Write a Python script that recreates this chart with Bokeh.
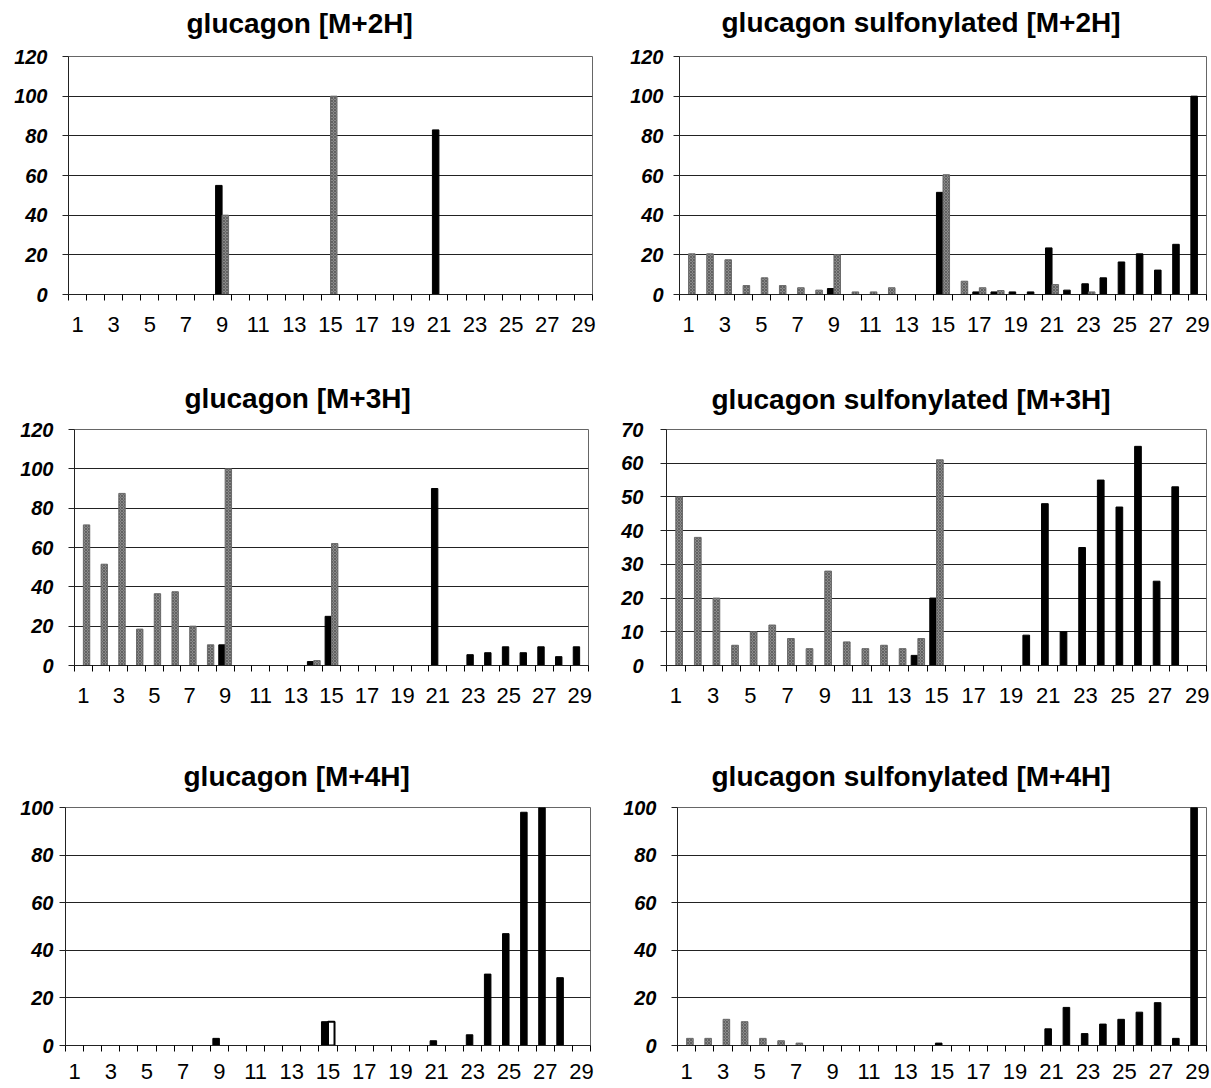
from bokeh.plotting import figure
from bokeh.layouts import column, row
from bokeh.models import FixedTicker, Range1d, Title
from bokeh.embed import file_html
from bokeh.resources import INLINE

# ---------------- data ----------------
categories = list(range(1, 30))
x_tick_labels = [1, 3, 5, 7, 9, 11, 13, 15, 17, 19, 21, 23, 25, 27, 29]

titles = [
    "glucagon [M+2H]",
    "glucagon sulfonylated [M+2H]",
    "glucagon [M+3H]",
    "glucagon sulfonylated [M+3H]",
    "glucagon [M+4H]",
    "glucagon sulfonylated [M+4H]",
]

# glucagon [M+2H]
gm2_black = [0, 0, 0, 0, 0, 0, 0, 0, 55, 0, 0, 0, 0, 0, 0, 0, 0, 0, 0, 0, 83, 0, 0, 0, 0, 0, 0, 0, 0]
gm2_gray = [0, 0, 0, 0, 0, 0, 0, 0, 40, 0, 0, 0, 0, 0, 100, 0, 0, 0, 0, 0, 0, 0, 0, 0, 0, 0, 0, 0, 0]

# glucagon sulfonylated [M+2H]
gsm2_black = [0, 0, 0, 0, 0, 0, 0, 0, 3, 0, 0, 0, 0, 0, 51.5, 0, 1.3, 1.3, 1.3, 1.3, 23.5, 2.2, 5.4, 8.4, 16.4, 20.5, 12.3, 25.3, 100]
gsm2_gray = [20.5, 20.5, 17.5, 4.5, 8.4, 4.5, 3.4, 2.2, 20, 1.3, 1.3, 3.4, 0, 0, 60.4, 6.7, 3.4, 2, 0, 0, 5, 0, 1.3, 0, 0, 0, 0, 0, 0]

# glucagon [M+3H]
gm3_black = [0, 0, 0, 0, 0, 0, 0, 0, 10.5, 0, 0, 0, 0, 2, 25, 0, 0, 0, 0, 0, 90, 0, 5.5, 6.5, 9.5, 6.5, 9.5, 4.5, 9.5]
gm3_gray = [71.5, 51.5, 87.5, 18.5, 36.5, 37.5, 20, 10.5, 100, 0, 0, 0, 0, 2.5, 62, 0, 0, 0, 0, 0, 0, 0, 0, 0, 0, 0, 0, 0, 0]

# glucagon sulfonylated [M+3H]
gsm3_black = [0, 0, 0, 0, 0, 0, 0, 0, 0, 0, 0, 0, 0, 3, 20, 0, 0, 0, 0, 9, 48, 10, 35, 55, 47, 65, 25, 53, 0]
gsm3_gray = [50, 38, 20, 6, 10, 12, 8, 5, 28, 7, 5, 6, 5, 8, 61, 0, 0, 0, 0, 0, 0, 0, 0, 0, 0, 0, 0, 0, 0]

# glucagon [M+4H]
gm4_black = [0, 0, 0, 0, 0, 0, 0, 0, 3, 0, 0, 0, 0, 0, 10, 0, 0, 0, 0, 0, 2, 0, 4.5, 30, 47, 98, 101, 28.5, 0]
gm4_open = [0, 0, 0, 0, 0, 0, 0, 0, 0, 0, 0, 0, 0, 0, 10, 0, 0, 0, 0, 0, 0, 0, 0, 0, 0, 0, 0, 0, 0]

# glucagon sulfonylated [M+4H]
gsm4_black = [0, 0, 0, 0, 0, 0, 0, 0, 0, 0, 0, 0, 0, 0, 1, 0, 0, 0, 0, 0, 7, 16, 5, 9, 11, 14, 18, 3, 100]
gsm4_gray = [3, 3, 11, 10, 3, 2, 1, 0, 0, 0, 0, 0, 0, 0, 0, 0, 0, 0, 0, 0, 0, 0, 0, 0, 0, 0, 0, 0, 0]

y_ticks_120 = [0, 20, 40, 60, 80, 100, 120]
y_ticks_70 = [0, 10, 20, 30, 40, 50, 60, 70]
y_ticks_100 = [0, 20, 40, 60, 80, 100]

FONT = "Liberation Sans"
BAR_W = 0.36
OFF = 0.18


def make_chart(title, black, second, y_ticks, geo, second_kind="gray"):
    w, h = geo["w"], geo["h"]
    l, t, fw, fh = geo["l"], geo["t"], geo["fw"], geo["fh"]
    p = figure(
        width=w, height=h,
        x_range=Range1d(0.5, 29.5), y_range=Range1d(0, y_ticks[-1]),
        output_backend="svg", toolbar_location=None,
        min_border_left=l, min_border_right=w - l - fw,
        min_border_top=t, min_border_bottom=h - t - fh,
        background_fill_color="white", border_fill_color="white",
    )
    p.outline_line_color = "#666666"
    p.outline_line_width = 1

    # title: an invisible spacer next to the frame, then the real title above it
    p.title.text = ""
    p.add_layout(Title(text=" ", text_font_size="1px", standoff=geo["sp"] - 3), "above")
    p.add_layout(Title(text=title, align="left", offset=geo["toff"], standoff=0,
                       text_font=FONT, text_font_size="28px", text_font_style="bold",
                       text_color="black"), "above")

    # bars
    bx = [c - OFF for c, v in zip(categories, black) if v > 0]
    bt = [v for v in black if v > 0]
    p.vbar(x=bx, top=bt, bottom=0, width=BAR_W, fill_color="black", line_color="black", line_width=1)

    sx = [c + OFF for c, v in zip(categories, second) if v > 0]
    st = [v for v in second if v > 0]
    if second_kind == "gray":
        p.vbar(x=sx, top=st, bottom=0, width=BAR_W, fill_color="#8a8a8a", line_color="#6a6a6a",
               line_width=1, hatch_pattern="x", hatch_color="#505050", hatch_scale=3, hatch_weight=0.7)
    else:
        p.vbar(x=sx, top=st, bottom=0, width=BAR_W, fill_color="white", line_color="black", line_width=2)

    # x axis
    xa = p.xaxis[0]
    xa.ticker = FixedTicker(ticks=x_tick_labels, minor_ticks=[c - 0.5 for c in categories] + [29.5])
    xa.major_tick_line_color = None
    xa.minor_tick_line_color = "black"
    xa.minor_tick_in = 0
    xa.minor_tick_out = 6
    xa.axis_line_color = "#222222"
    xa.major_label_text_font = FONT
    xa.major_label_text_font_size = "22px"
    xa.major_label_text_color = "black"
    xa.major_label_standoff = geo["xst"]

    # y axis
    ya = p.yaxis[0]
    ya.ticker = FixedTicker(ticks=y_ticks)
    ya.minor_tick_line_color = None
    ya.major_tick_in = 0
    ya.major_tick_out = 6
    ya.major_tick_line_color = "#222222"
    ya.axis_line_color = "#222222"
    ya.major_label_text_font = FONT
    ya.major_label_text_font_size = "20px"
    ya.major_label_text_font_style = "bold italic"
    ya.major_label_text_color = "black"
    ya.major_label_standoff = geo["yst"]

    p.xgrid.grid_line_color = None
    p.ygrid.ticker = FixedTicker(ticks=y_ticks)
    p.ygrid.grid_line_color = "#222222"
    p.ygrid.grid_line_width = 1
    return p


# geometry (pixels): size, borders, frame size, title offset/spacer, label standoffs
g_tl = dict(w=605, h=365, l=68, t=56, fw=524, fh=238, toff=118, sp=18, xst=16, yst=15)
g_tr = dict(w=605, h=365, l=74, t=56, fw=527, fh=238, toff=42, sp=19, xst=16, yst=10)
g_ml = dict(w=605, h=370, l=74, t=64, fw=514, fh=236, toff=110, sp=16, xst=16, yst=15)
g_mr = dict(w=605, h=370, l=61, t=64, fw=540, fh=236, toff=45, sp=15, xst=16, yst=17)
g_bl = dict(w=605, h=353, l=65, t=72, fw=525, fh=238, toff=118, sp=16, xst=12, yst=6)
g_br = dict(w=605, h=353, l=72, t=72, fw=529, fh=238, toff=34, sp=16, xst=12, yst=15)

p1 = make_chart(titles[0], gm2_black, gm2_gray, y_ticks_120, g_tl)
p2 = make_chart(titles[1], gsm2_black, gsm2_gray, y_ticks_120, g_tr)
p3 = make_chart(titles[2], gm3_black, gm3_gray, y_ticks_120, g_ml)
p4 = make_chart(titles[3], gsm3_black, gsm3_gray, y_ticks_70, g_mr)
p5 = make_chart(titles[4], gm4_black, gm4_open, y_ticks_100, g_bl, second_kind="open")
p6 = make_chart(titles[5], gsm4_black, gsm4_gray, y_ticks_100, g_br)

layout = column(row(p1, p2), row(p3, p4), row(p5, p6))

open("out.html", "w").write(file_html(layout, INLINE))
